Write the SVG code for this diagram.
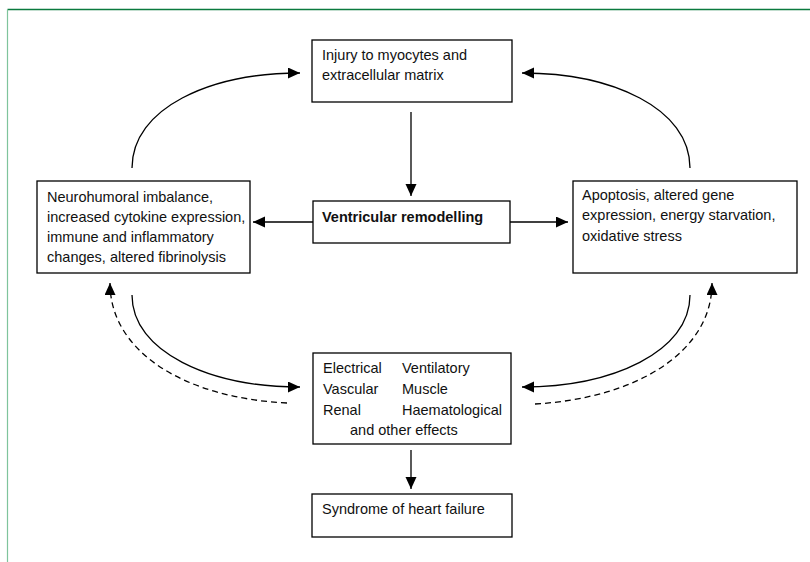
<svg xmlns="http://www.w3.org/2000/svg" width="810" height="562" viewBox="0 0 810 562">
<style>
.box{fill:#fff;stroke:#000;stroke-width:1.3}
.t{font-family:"Liberation Sans",Arial,sans-serif;font-size:14.5px;fill:#111}
.b{font-weight:bold}
.ln{fill:none;stroke:#000;stroke-width:1.3}
.dash{stroke-dasharray:6 4}
</style>
<defs>
<marker id="ah" markerUnits="userSpaceOnUse" markerWidth="13" markerHeight="12" refX="12" refY="5.5" orient="auto">
<path d="M0,0 L12,5.5 L0,11 z" fill="#000"/>
</marker>
</defs>
<rect width="810" height="562" fill="#fff"/>
<g id="frame">
<line x1="7.5" y1="9.5" x2="810" y2="9.5" stroke="#0a7a3e" stroke-width="1.4"/>
<line x1="7.5" y1="9.5" x2="7.5" y2="562" stroke="#7fc49c" stroke-width="1.2"/>
</g>
<g id="connectors">
<path class="ln" d="M411,112 L411,196" marker-end="url(#ah)"/>
<path class="ln" d="M313,222 L253,222" marker-end="url(#ah)"/>
<path class="ln" d="M510,222 L568,222" marker-end="url(#ah)"/>
<path class="ln" d="M411,450 L411,489" marker-end="url(#ah)"/>
<path class="ln" d="M132,168 C132,108 210,73 300,73" marker-end="url(#ah)"/>
<path class="ln" d="M690,168 C690,108 612,73 522,73" marker-end="url(#ah)"/>
<path class="ln" d="M132,295 C132,352 210,387 300,387" marker-end="url(#ah)"/>
<path class="ln" d="M690,295 C690,352 612,387 522,387" marker-end="url(#ah)"/>
<path class="ln dash" d="M287,403 C185,398 110,352 110,283" marker-end="url(#ah)"/>
<path class="ln dash" d="M535,404 C637,398 712,352 712,283" marker-end="url(#ah)"/>
</g>
<g id="injury">
<rect class="box" x="312" y="40" width="200" height="62"/>
<text class="t" x="322" y="60">Injury to myocytes and</text>
<text class="t" x="322" y="80">extracellular matrix</text>
</g>
<g id="remodelling">
<rect class="box" x="313" y="201" width="197" height="42"/>
<text class="t b" x="322" y="222">Ventricular remodelling</text>
</g>
<g id="neurohumoral">
<rect class="box" x="37" y="181" width="213" height="92"/>
<text class="t" x="47" y="202">Neurohumoral imbalance,</text>
<text class="t" x="47" y="222">increased cytokine expression,</text>
<text class="t" x="47" y="242">immune and inflammatory</text>
<text class="t" x="47" y="262">changes, altered fibrinolysis</text>
</g>
<g id="apoptosis">
<rect class="box" x="573" y="181" width="224" height="92"/>
<text class="t" x="582" y="200">Apoptosis, altered gene</text>
<text class="t" x="582" y="220">expression, energy starvation,</text>
<text class="t" x="582" y="241">oxidative stress</text>
</g>
<g id="effects">
<rect class="box" x="313" y="353" width="198" height="91"/>
<text class="t" x="323" y="373">Electrical</text>
<text class="t" x="402" y="373">Ventilatory</text>
<text class="t" x="323" y="394">Vascular</text>
<text class="t" x="402" y="394">Muscle</text>
<text class="t" x="323" y="415">Renal</text>
<text class="t" x="402" y="415">Haematological</text>
<text class="t" x="350" y="435">and other effects</text>
</g>
<g id="syndrome">
<rect class="box" x="312" y="494" width="200" height="43"/>
<text class="t" x="322" y="514">Syndrome of heart failure</text>
</g>
</svg>
